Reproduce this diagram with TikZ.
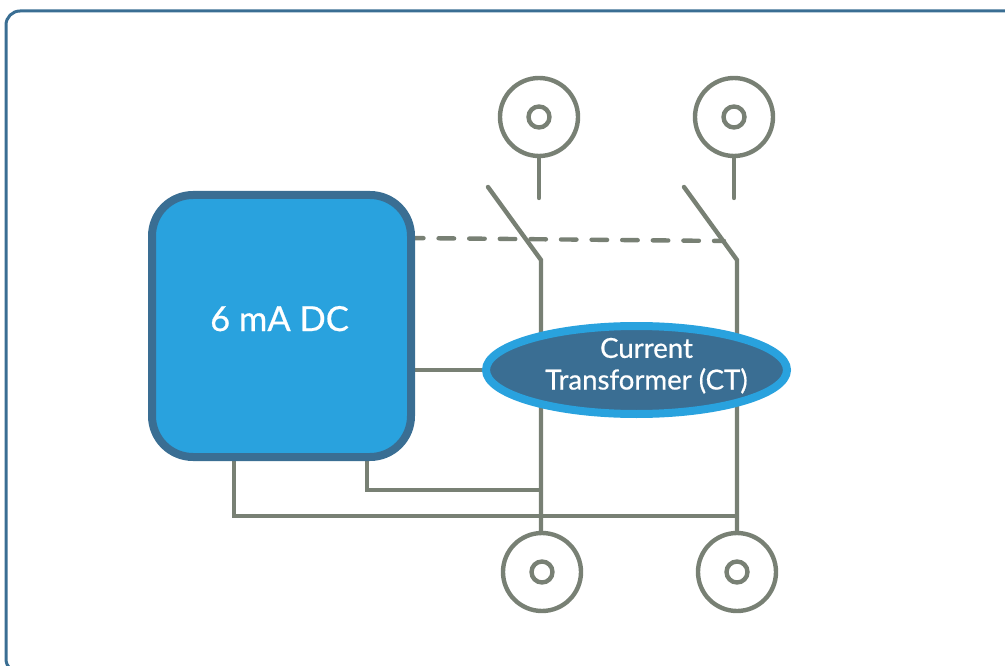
\documentclass[tikz,border=0pt]{standalone}
\usepackage{fontspec}
\setmainfont{Lato}
\newfontfamily\lblfont[RawFeature={embolden=0.6}]{Lato}
\usetikzlibrary{shapes.geometric,backgrounds}
\definecolor{frameblue}{HTML}{3A6E93}
\definecolor{skyblue}{HTML}{29A2DE}
\definecolor{wire}{HTML}{788074}
\tikzset{
  wireline/.style={draw=wire,line width=4.4pt},
  ring/.style={circle,draw=wire,line width=4.4pt,inner sep=0pt,outer sep=0pt,minimum size=#1},
  dcbox/.style={rectangle,rounded corners=41pt,draw=frameblue,fill=skyblue,line width=8pt,
    minimum width=259pt,minimum height=262pt,inner sep=0pt,outer sep=0pt,text=white,font=\lblfont\fontsize{34.5}{38}\selectfont},
  ctoval/.style={ellipse,draw=skyblue,fill=frameblue,line width=8pt,minimum width=301pt,minimum height=88pt,
    inner sep=0pt,outer sep=0pt,text=white,align=center,font=\lblfont\fontsize{27.6}{31}\selectfont},
}
\begin{document}
\begin{tikzpicture}[x=1pt,y=-1pt]
\useasboundingbox (0,0) rectangle (1005,666);
\clip (0,0) rectangle (1005,666);
\node[rectangle,draw=frameblue,line width=3pt,rounded corners=14pt,minimum width=1030pt,minimum height=662pt,
      inner sep=0pt,outer sep=0pt] (frame) at (521,342) {};
% outlets
\node[ring=78pt] (t1) at (539,117) {};
\node[ring=21pt] (t1i) at (539,117) {};
\node[ring=78pt] (t2) at (734,117) {};
\node[ring=21pt] (t2i) at (734,117) {};
\node[ring=78pt] (b1) at (542,572) {};
\node[ring=21pt] (b1i) at (542,572) {};
\node[ring=78pt] (b2) at (737,572) {};
\node[ring=21pt] (b2i) at (737,572) {};
% box and transformer
\node[dcbox] (dc) at (281.5,326) {\hspace*{-4pt}\raisebox{-5pt}[0pt][0pt]{6 mA DC}};
\node[ctoval] (ct) at (636.5,370) {\makebox[0pt]{\hspace*{20pt}\raisebox{-19.5pt}[0pt][0pt]{\shortstack[c]{\rule{0pt}{16pt}Current\\[7pt]Transformer (CT)}}}};
% free ends
\coordinate (s1) at (539,198);
\coordinate (s2) at (734,198);
\coordinate (p1) at (488,187);
\coordinate (p2) at (684,187);
\coordinate (k1) at (541,260);
\coordinate (k2) at (737,260);
\coordinate (d1) at (408,238);
\coordinate (d2) at (724,241);
\coordinate (j1) at (541,490);
\coordinate (j2) at (737,516);
\coordinate (e1) at (367,457);
\coordinate (e2) at (234,457);
\coordinate (w1) at (411,370);
\begin{scope}[on background layer]
  \draw[wireline,line cap=round] (t1.south) -- (s1);
  \draw[wireline,line cap=round] (t2.south) -- (s2);
  \draw[wireline,line cap=round,line join=miter] (p1) -- (k1) -- (b1.north -| k1);
  \draw[wireline,line cap=round,line join=miter] (p2) -- (k2) -- (b2.north);
  \draw[wireline,line cap=round,dash pattern=on 15.5pt off 15.1pt] (d1) -- (d2);
  \draw[wireline] (w1) -- (ct.west);
  \draw[wireline] (e1) |- (j1);
  \draw[wireline] (e2) |- (j2);
\end{scope}
\end{tikzpicture}
\end{document}
